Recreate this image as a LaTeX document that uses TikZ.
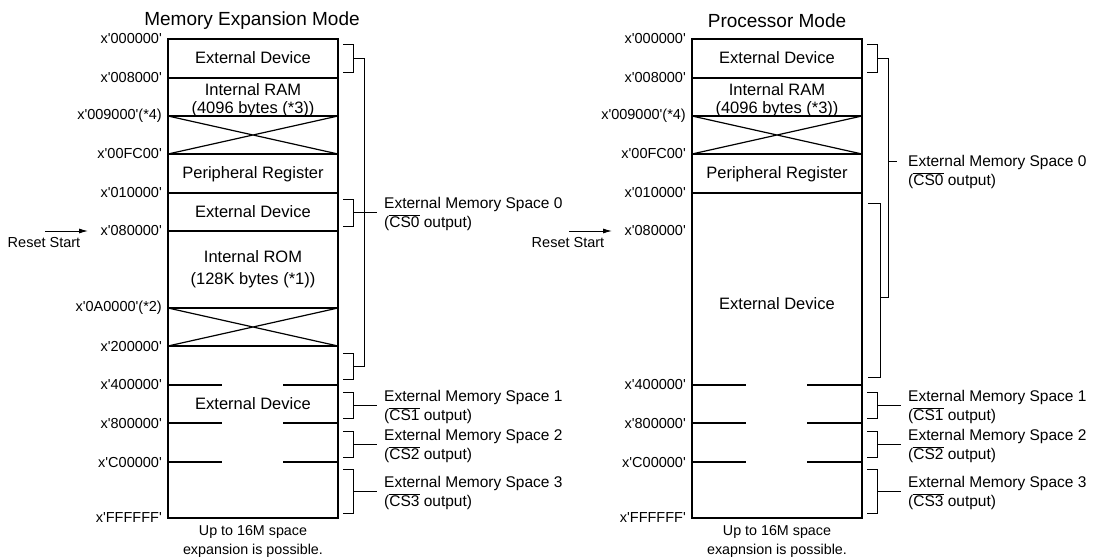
\documentclass[tikz,border=0pt]{standalone}
\usepackage{fontspec}
\setmainfont{Liberation Sans}[Ligatures=TeXOff]
\usetikzlibrary{arrows.meta}
\tikzset{
  >={Latex[length=9pt,width=5pt]},
  every picture/.style={line join=miter},
  addr/.style={font=\fontsize{14.5}{17}\selectfont, anchor=east, inner sep=0pt},
  region/.style={font=\fontsize{16.5}{18}\selectfont, align=center, inner sep=0pt},
  spacelbl/.style={font=\fontsize{15.5}{18.7}\selectfont, align=left, anchor=west, inner sep=0pt},
  note/.style={font=\fontsize{14.3}{19}\selectfont, align=center, inner sep=0pt},
  heading/.style={font=\fontsize{19}{22}\selectfont, inner sep=0pt},
  mapline/.style={line width=1.2pt},
  brk/.style={line width=0.9pt},
}
\newcommand{\csbar}[1]{$\overline{\mbox{CS#1}}$}

\begin{document}
\begin{tikzpicture}[x=1pt, y=-1pt]
\useasboundingbox (0,0) rectangle (1101,558);
% a bracket hugging one space: #1 = top, #2 = bottom
\newcommand{\spacebrk}[2]{\draw[brk] (343,#1) -- (353,#1) -- (353,#2) -- (343,#2);}
% what both maps share: #1 = name prefix, #2 = second line of the note
\newcommand{\mapcommon}[2]{%
  \draw[mapline] (168,39) rectangle (338,518);
  \foreach \y in {78,116,154,193} \draw[mapline] (168,\y) -- (338,\y);
  \draw[mapline] (168,116) -- (338,154) (168,154) -- (338,116);
  \foreach \y in {385,423,462} \draw[mapline] (168,\y) -- (222,\y) (283,\y) -- (338,\y);
  \foreach \y/\t [count=\i] in {39/x'000000', 78/x'008000', 116/x'009000'(*4),
      154/x'00FC00', 193/x'010000', 231/x'080000', 385/x'400000', 423/x'800000',
      462/x'C00000', 518/x'FFFFFF'}
    \node[addr] (#1adr\i) at (162,\y) {\t};
  \node[region] (#1ext0) at (253,58) {External Device};
  \node[region] (#1ram) at (253,100) {Internal RAM\\(4096 bytes (*3))};
  \node[region] (#1per) at (253,174) {Peripheral Register};
  \node[note] (#1note) at (253,541) {Up to 16M space\\#2};
  \coordinate (#1rs0) at (45,231);
  \coordinate (#1rs1) at (88,231);
  \draw[brk, ->] (#1rs0) -- (#1rs1);
  \node[addr, anchor=center] (#1rst) at (44,243) {Reset Start};
  % chip-select spaces 1 to 3
  \foreach \t/\b/\m [count=\i] in {392/418/405, 431/457/444, 469/513/491} {
    \spacebrk{\t}{\b}
    \draw[brk] (353,\m) -- (377,\m);
    \node[spacelbl] (#1cs\i) at (384,\m+2) {External Memory Space \i\\(\csbar{\i} output)};
  }
  \spacebrk{44}{72}
  \draw[brk] (353,58) -- (364,58);}

% ------------------------------------------------------------------ memory expansion
\begin{scope}
\node[heading] (lttl) at (252,21) {Memory Expansion Mode};
\mapcommon{l}{expansion is possible.}
\foreach \y in {231,308,346} \draw[mapline] (168,\y) -- (338,\y);
\draw[mapline] (168,308) -- (338,346) (168,346) -- (338,308);
\node[addr] (ladr11) at (162,308) {x'0A0000'(*2)};
\node[addr] (ladr12) at (162,346) {x'200000'};
\node[region] (lext1) at (253,212) {External Device};
\node[region, text depth=2pt] (lrom) at (253,269) {Internal ROM\\[4pt](128K bytes (*1))};
\node[region] (lext2) at (253,404) {External Device};
\spacebrk{199}{226}
\spacebrk{353}{379}
\draw[brk] (353,366) -- (364,366) -- (364,58);
\draw[brk] (353,212) -- (377,212);
\node[spacelbl] (lcs0) at (384,214) {External Memory Space 0\\(\csbar{0} output)};
\end{scope}

% ------------------------------------------------------------------ processor
\begin{scope}[xshift=524pt]
\node[heading] (rttl) at (253,21) {Processor Mode};
\mapcommon{r}{exapnsion is possible.}
\node[region] (rext1) at (253,304) {External Device};
\draw[brk] (344,203) -- (356,203) -- (356,377) -- (344,377);
\draw[brk] (356,297) -- (364,297) -- (364,58);
\draw[brk] (364,161) -- (373,161);
\node[spacelbl] (rcs0) at (384,172) {External Memory Space 0\\(\csbar{0} output)};
\end{scope}
\end{tikzpicture}
\end{document}
